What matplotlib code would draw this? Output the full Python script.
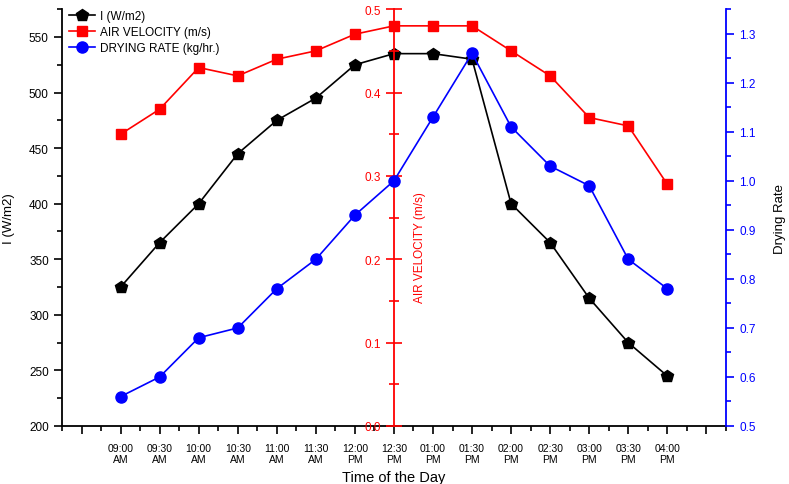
import numpy as np
import matplotlib.pyplot as plt
from matplotlib.ticker import MultipleLocator

plt.rcParams['font.family'] = ['Liberation Sans', 'DejaVu Sans']

# data
times = ['09:00\nAM', '09:30\nAM', '10:00\nAM', '10:30\nAM', '11:00\nAM', '11:30\nAM',
         '12:00\nPM', '12:30\nPM', '01:00\nPM', '01:30\nPM', '02:00\nPM', '02:30\nPM',
         '03:00\nPM', '03:30\nPM', '04:00\nPM']
irradiance = [325, 365, 400, 445, 475, 495, 525, 535, 535, 530, 400, 365, 315, 275, 245]
air_velocity = [0.35, 0.38, 0.43, 0.42, 0.44, 0.45, 0.47, 0.48, 0.48, 0.48, 0.45, 0.42, 0.37, 0.36, 0.29]
drying_rate = [0.56, 0.60, 0.68, 0.70, 0.78, 0.84, 0.93, 1.00, 1.13, 1.26, 1.11, 1.03, 0.99, 0.84, 0.78]

x = np.arange(1, len(times) + 1)

fig = plt.figure(figsize=(7.89, 4.85), dpi=100)
ax = fig.add_axes([0.0786, 0.1196, 0.8414, 0.8594])
ax_v = ax.twinx()
ax_d = ax.twinx()

# I (W/m2)
l1, = ax.plot(x, irradiance, color='black', marker='p', markersize=9, lw=1.2,
              label='I (W/m2)')
ax.set_xlim(-0.5, 16.5)
ax.set_ylim(200, 575)
ax.yaxis.set_major_locator(MultipleLocator(50))
ax.yaxis.set_minor_locator(MultipleLocator(25))
ax.set_xticks(np.arange(0, 17))
ax.set_xticklabels([''] + times + [''])
ax.xaxis.set_minor_locator(MultipleLocator(0.5))
ax.tick_params(axis='x', labelsize=7.5, length=6, width=1.2, pad=6)
ax.tick_params(axis='x', which='minor', length=3.5, width=1.2)
ax.tick_params(axis='y', labelsize=8.5, length=6, width=1.2)
ax.tick_params(axis='y', which='minor', length=3.5, width=1.2)
ax.set_xlabel('Time of the Day', fontsize=10.5, labelpad=4)
ax.set_ylabel('I (W/m2)', fontsize=9.5, labelpad=10)
ax.spines['top'].set_visible(False)
ax.spines['right'].set_visible(False)
ax.spines['left'].set_linewidth(1.3)
ax.spines['bottom'].set_linewidth(1.3)

# AIR VELOCITY axis in the middle
l2, = ax_v.plot(x, air_velocity, color='red', marker='s', markersize=6.5, lw=1.2,
                label='AIR VELOCITY (m/s)')
ax_v.set_ylim(0, 0.5)
for s in ['top', 'right', 'bottom']:
    ax_v.spines[s].set_visible(False)
ax_v.spines['left'].set_position(('data', 8))
ax_v.spines['left'].set_color('red')
ax_v.spines['left'].set_linewidth(1.3)
ax_v.yaxis.set_ticks_position('left')
ax_v.yaxis.set_major_locator(MultipleLocator(0.1))
ax_v.yaxis.set_minor_locator(MultipleLocator(0.05))
ax_v.tick_params(axis='y', which='both', colors='red', labelsize=8.5, direction='inout', width=1.2)
ax_v.tick_params(axis='y', which='major', length=12)
ax_v.tick_params(axis='y', which='minor', length=7)
ax_v.text(8.67, 0.215, 'AIR VELOCITY (m/s)', color='red', fontsize=8.5,
          rotation=90, ha='center', va='center')

# DRYING RATE on right
l3, = ax_d.plot(x, drying_rate, color='blue', marker='o', markersize=8, lw=1.2,
                label='DRYING RATE (kg/hr.)')
ax_d.set_ylim(0.5, 1.35)
ax_d.yaxis.set_major_locator(MultipleLocator(0.1))
ax_d.yaxis.set_minor_locator(MultipleLocator(0.05))
for s in ['top', 'left', 'bottom']:
    ax_d.spines[s].set_visible(False)
ax_d.spines['right'].set_color('blue')
ax_d.spines['right'].set_linewidth(1.3)
ax_d.tick_params(axis='y', which='both', colors='blue', labelsize=8.5, width=1.2)
ax_d.tick_params(axis='y', which='major', length=6)
ax_d.tick_params(axis='y', which='minor', length=3.5)
ax_d.set_ylabel('Drying Rate', fontsize=9.5, labelpad=13)

ax_d.legend(handles=[l1, l2, l3], loc='upper left', bbox_to_anchor=(0.0, 1.015),
            frameon=False, fontsize=8.5, handlelength=2.2, handletextpad=0.4,
            labelspacing=0.35, borderaxespad=0.2)

fig.savefig('out.png', dpi=100)
